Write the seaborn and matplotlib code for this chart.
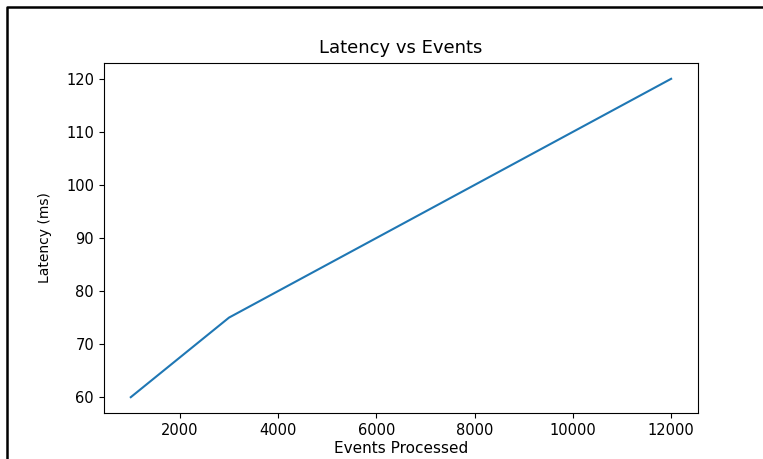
import matplotlib
matplotlib.use("Agg")
import matplotlib.pyplot as plt
from matplotlib.lines import Line2D
import pandas as pd
import seaborn as sns

events = [1000, 3000, 12000]
latency = [60, 75, 120]

df = pd.DataFrame({"Events Processed": events, "Latency (ms)": latency})

fig = plt.figure(figsize=(7.63, 4.59), dpi=100)
ax = fig.add_axes([0.136, 0.100, 0.779, 0.763])
sns.lineplot(data=df, x="Events Processed", y="Latency (ms)", ax=ax, color="#1f77b4")
ax.set_title("Latency vs Events", fontsize=13, pad=7)
ax.set_xlabel("Events Processed", fontsize=11, labelpad=2)
ax.set_ylabel("Latency (ms)", fontsize=10, labelpad=10)
ax.set_xticks([2000, 4000, 6000, 8000, 10000, 12000])
ax.tick_params(labelsize=10.5)

# screenshot frame
x0 = 7 / 763
y0 = 1 - 7 / 459
fig.add_artist(Line2D([x0, x0, 1], [0, y0, y0], transform=fig.transFigure,
                      color="black", linewidth=1.8))

fig.savefig("out.png", dpi=100)
